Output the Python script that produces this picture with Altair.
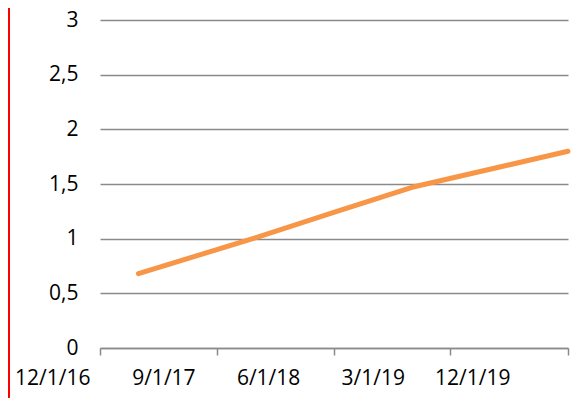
import altair as alt
import pandas as pd

dates = ["2017-03-01T00:00:00", "2017-12-01T00:00:00", "2018-06-01T00:00:00",
         "2018-12-01T00:00:00", "2019-12-01T00:00:00"]
values = [0.68, 1.01, 1.24, 1.47, 1.80]
y_ticks = [0, 0.5, 1, 1.5, 2, 2.5, 3]
x_ticks = [(2016, 12, 1), (2017, 9, 1), (2018, 6, 1), (2019, 3, 1), (2019, 12, 1)]

df = pd.DataFrame({"date": dates, "value": values})

FONT = "Open Sans"
GRID = "#8a8a8a"

x_enc = alt.X(
    "date:T",
    scale=alt.Scale(domain=[alt.DateTime(year=2016, month=12, date=1),
                            alt.DateTime(year=2019, month=12, date=1)]),
    axis=alt.Axis(
        title=None,
        values=[alt.DateTime(year=y, month=m, date=d) for (y, m, d) in x_ticks],
        labelExpr="timeFormat(datum.value, '%-m/%-d/%y')",
        grid=False,
        domainColor=GRID,
        domainWidth=1.5,
        tickColor=GRID,
        tickWidth=1.5,
        tickSize=7,
        labelAlign="right",
        labelBaseline="top",
        labelPadding=12,
        labelOffset={"expr": "-10 - 12*(datum.value - datetime(2016,11,1))/(273.9*864e5)"},
        labelFont=FONT,
        labelFontSize=21,
        labelColor="#000000",
        labelFlush=False,
        labelOverlap=False,
    ),
)

y_enc = alt.Y(
    "value:Q",
    scale=alt.Scale(domain=[0, 3], nice=False),
    axis=alt.Axis(
        title=None,
        values=y_ticks,
        labelExpr="replace(format(datum.value, '~g'), '.', ',')",
        domain=False,
        ticks=False,
        grid=True,
        gridColor=GRID,
        gridWidth=1.5,
        labelPadding=22,
        labelFont=FONT,
        labelFontSize=21,
        labelColor="#000000",
    ),
)

line = alt.Chart(df).mark_line(
    color="#F79646", strokeWidth=5, strokeCap="round", strokeJoin="round"
).encode(x=x_enc, y=y_enc)

red = alt.Chart(pd.DataFrame({"a": [0]})).mark_rule(
    color="#ff0000", strokeWidth=2
).encode(x=alt.value(-91), y=alt.value(-12), y2=alt.value(380))

chart = alt.layer(line, red).properties(
    width=468,
    height=328,
    autosize=alt.AutoSizeParams(type="none"),
    padding={"left": 92, "top": 12, "right": 4, "bottom": 50},
).configure_view(stroke=None)

chart.save("out.html", embed_options={"renderer": "svg", "actions": False})
